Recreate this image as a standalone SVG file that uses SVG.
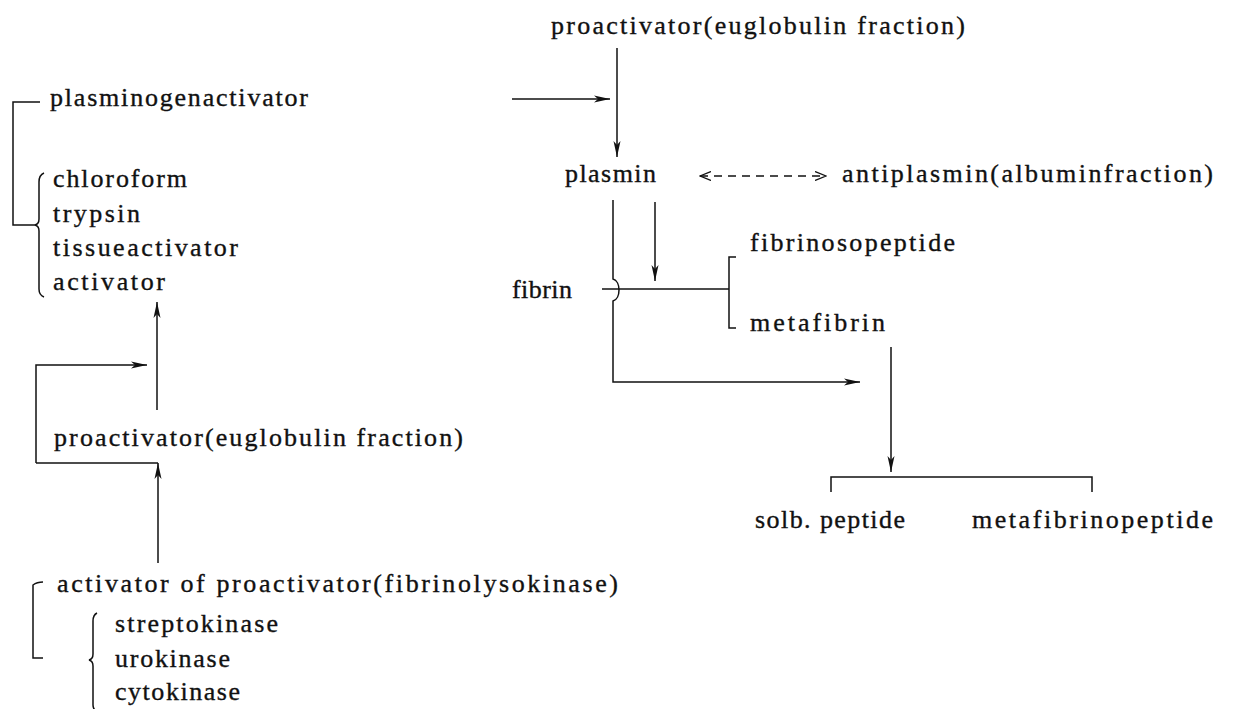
<svg xmlns="http://www.w3.org/2000/svg" width="1242" height="709" viewBox="0 0 1242 709">
<style>
text{font-family:"Liberation Serif","DejaVu Serif",serif;font-size:26px;fill:#111;stroke:#111;stroke-width:0.35;}
.ln{fill:none;stroke:#111;stroke-width:1.5;}
.ds{fill:none;stroke:#111;stroke-width:1.3;stroke-dasharray:8 6;}
</style>
<defs>
<marker id="ah" viewBox="0 0 16 8" refX="16" refY="4" markerWidth="16" markerHeight="8" markerUnits="userSpaceOnUse" orient="auto">
<path d="M0,0.5 L16,4 L0,7.5 L4,4 z" fill="#111"/>
</marker>
<marker id="oh" viewBox="0 0 12 10" refX="11" refY="5" markerWidth="12" markerHeight="10" markerUnits="userSpaceOnUse" orient="auto-start-reverse">
<path d="M0,0.5 L11,5 L0,9.5" fill="none" stroke="#111" stroke-width="1.3"/>
</marker>
</defs>
<g id="connectors">
<path class="ln" d="M40,102 L13,102 L13,225 L35,225"/>
<path class="ln" d="M44,173 Q39,175 39,182 L39,219 Q39,224 35,225 Q39,226 39,231 L39,289 Q39,295 44,297"/>
<path class="ln" d="M157,410 L157,302" marker-end="url(#ah)"/>
<path class="ln" d="M36,463 L36,365 L147,365" marker-end="url(#ah)"/>
<path class="ln" d="M36,463 L158,463"/>
<path class="ln" d="M158,563 L158,463" marker-end="url(#ah)"/>
<path class="ln" d="M43,582 Q37,582 33,585 L33,658 L43,658"/>
<path class="ln" d="M97,613 Q93,615 93,621 L93,654 Q93,659 89,660 Q93,661 93,666 L93,705 Q93,709 96,711"/>
<path class="ln" d="M512,99 L610,99" marker-end="url(#ah)"/>
<path class="ln" d="M617,48 L617,157" marker-end="url(#ah)"/>
<path class="ds" d="M700,176 L826,176" marker-start="url(#oh)" marker-end="url(#oh)"/>
<path class="ln" d="M613,200 L613,279 C621,281 621,299 613,301 L613,382 L860,382" marker-end="url(#ah)"/>
<path class="ln" d="M655,202 L655,281" marker-end="url(#ah)"/>
<path class="ln" d="M602,289 L729,289"/>
<path class="ln" d="M736,257 L729,257 L729,328 L736,328"/>
<path class="ln" d="M891,347 L891,472" marker-end="url(#ah)"/>
<path class="ln" d="M831,492 L831,477 L1092,477 L1092,492"/>
</g>
<g id="n-plasminogenactivator"><text x="50" y="106" textLength="258" lengthAdjust="spacing">plasminogenactivator</text></g>
<g id="n-agents">
<text x="53" y="187" textLength="134" lengthAdjust="spacing">chloroform</text>
<text x="53" y="222" textLength="87" lengthAdjust="spacing">trypsin</text>
<text x="53" y="256" textLength="185" lengthAdjust="spacing">tissueactivator</text>
<text x="53" y="290" textLength="112" lengthAdjust="spacing">activator</text>
</g>
<g id="n-proactivator-left"><text x="54" y="446" textLength="409" lengthAdjust="spacing">proactivator(euglobulin fraction)</text></g>
<g id="n-activator-of-proactivator"><text x="57" y="592" textLength="561" lengthAdjust="spacing">activator of proactivator(fibrinolysokinase)</text></g>
<g id="n-kinases">
<text x="115" y="632" textLength="163" lengthAdjust="spacing">streptokinase</text>
<text x="115" y="667" textLength="115" lengthAdjust="spacing">urokinase</text>
<text x="115" y="700" textLength="125" lengthAdjust="spacing">cytokinase</text>
</g>
<g id="n-proactivator-top"><text x="551" y="34" textLength="414" lengthAdjust="spacing">proactivator(euglobulin fraction)</text></g>
<g id="n-plasmin"><text x="565" y="182" textLength="91" lengthAdjust="spacing">plasmin</text></g>
<g id="n-antiplasmin"><text x="842" y="182" textLength="371" lengthAdjust="spacing">antiplasmin(albuminfraction)</text></g>
<g id="n-fibrin"><text x="512" y="298" textLength="60" lengthAdjust="spacing">fibrin</text></g>
<g id="n-fibrinosopeptide"><text x="750" y="251" textLength="205" lengthAdjust="spacing">fibrinosopeptide</text></g>
<g id="n-metafibrin"><text x="750" y="331" textLength="135" lengthAdjust="spacing">metafibrin</text></g>
<g id="n-solb-peptide"><text x="755" y="528" textLength="150" lengthAdjust="spacing">solb. peptide</text></g>
<g id="n-metafibrinopeptide"><text x="972" y="528" textLength="241" lengthAdjust="spacing">metafibrinopeptide</text></g>
</svg>
